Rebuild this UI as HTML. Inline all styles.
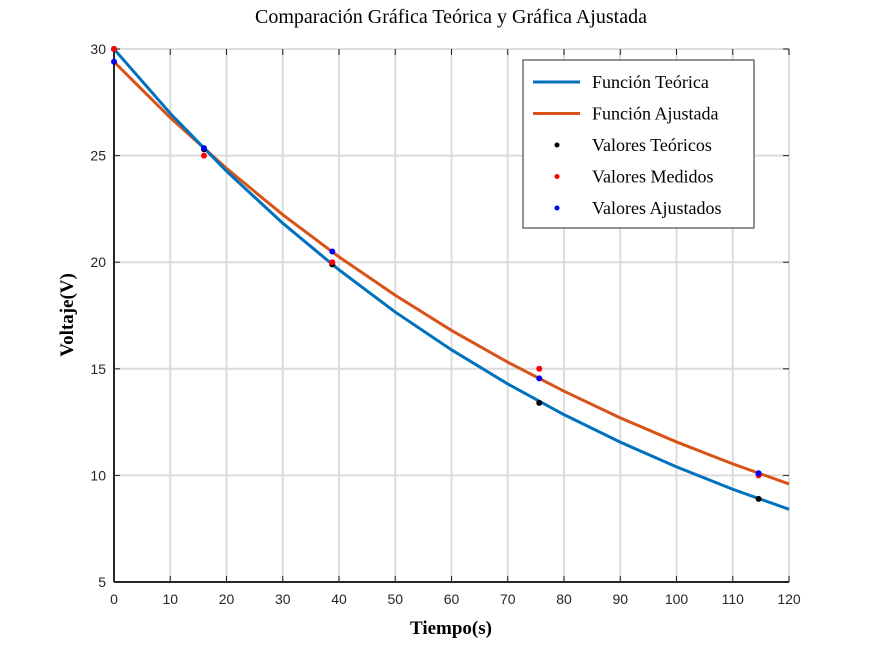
<!DOCTYPE html>
<html><head><meta charset="utf-8"><style>
body{margin:0;background:#fff}
svg{display:block}
</style></head><body>
<svg id="chart" width="872" height="654" xmlns="http://www.w3.org/2000/svg"></svg>
<script>
const curveT = [0,10,20,30,40,50,60,70,80,90,100,110,120];
const theoCurve = [30,26.98,24.27,21.83,19.64,17.66,15.89,14.29,12.85,11.56,10.40,9.35,8.41];
const fitCurve = [29.4,26.78,24.4,22.23,20.25,18.45,16.8,15.31,13.95,12.7,11.57,10.54,9.6];
const sampleT = [0,16,38.8,75.6,114.6];
const theoVals = [30,25.3,19.9,13.4,8.9];
const measVals = [30,25,20,15,10];
const fitVals = [29.4,25.35,20.5,14.55,10.1];
const xTicks = [0,10,20,30,40,50,60,70,80,90,100,110,120];
const yTicks = [5,10,15,20,25,30];

const NS="http://www.w3.org/2000/svg";
const svg=document.getElementById('chart');
const X0=114,X1=789,Y0=582,Y1=49;
const sx=v=>X0+(v-0)/(120-0)*(X1-X0);
const sy=v=>Y0-(v-5)/(30-5)*(Y0-Y1);
function mk(tag,attrs,parent){const e=document.createElementNS(NS,tag);for(const k in attrs)e.setAttribute(k,attrs[k]);(parent||svg).appendChild(e);return e;}

const grid=mk('g',{});


xTicks.forEach(t=>{mk('line',{x1:sx(t),x2:sx(t),y1:Y1,y2:Y0,stroke:'#dcdcdc','stroke-width':2},grid);});
yTicks.forEach(t=>{mk('line',{x1:X0,x2:X1,y1:sy(t),y2:sy(t),stroke:'#dcdcdc','stroke-width':2},grid);});

const axes=mk('g',{});


mk('line',{x1:X0,x2:X0,y1:Y1,y2:Y0,stroke:'#262626','stroke-width':2},axes);
mk('line',{x1:X0,x2:X1,y1:Y0,y2:Y0,stroke:'#262626','stroke-width':2},axes);
xTicks.forEach(t=>{
  mk('line',{x1:sx(t),x2:sx(t),y1:Y0,y2:Y0-6,stroke:'#262626','stroke-width':1},axes);
  mk('line',{x1:sx(t),x2:sx(t),y1:Y1,y2:Y1+6,stroke:'#262626','stroke-width':1},axes);
  const tx=mk('text',{x:sx(t),y:Y0+22,'text-anchor':'middle','font-family':'Liberation Sans, sans-serif','font-size':14,fill:'#262626'},axes);
  tx.textContent=t;
  
  
});
yTicks.forEach(t=>{
  mk('line',{x1:X0,x2:X0+6,y1:sy(t),y2:sy(t),stroke:'#262626','stroke-width':1},axes);
  mk('line',{x1:X1,x2:X1-6,y1:sy(t),y2:sy(t),stroke:'#262626','stroke-width':1},axes);
  const tx=mk('text',{x:X0-8,y:sy(t)+5,'text-anchor':'end','font-family':'Liberation Sans, sans-serif','font-size':14,fill:'#262626'},axes);
  tx.textContent=t;
  
  
});

function line(vals,color,name){
  const d=curveT.map((t,i)=>(i?'L':'M')+sx(t)+','+sy(vals[i])).join(' ');
  const p=mk('path',{d:d,fill:'none',stroke:color,'stroke-width':3});
  
  
}
line(fitCurve,'#d95319','fitted-curve');
line(theoCurve,'#0072bd','theoretical-curve');

function pts(vals,color,name){
  sampleT.forEach((t,i)=>{
    const c=mk('circle',{cx:sx(t),cy:sy(vals[i]),r:3,fill:color});
    
    
  });
}
pts(theoVals,'#000','theoretical-point');
pts(measVals,'#ff0000','measured-point');
pts(fitVals,'#0000ff','fitted-point');

const title=mk('text',{x:451,y:23,'text-anchor':'middle','font-family':'Liberation Serif, serif','font-size':20,fill:'#000'});
title.textContent='Comparación Gráfica Teórica y Gráfica Ajustada';


const xl=mk('text',{x:451,y:634,'text-anchor':'middle','font-family':'Liberation Serif, serif','font-size':19,'font-weight':'bold',fill:'#000'});
xl.textContent='Tiempo(s)';


const yl=mk('text',{x:0,y:0,'text-anchor':'middle','font-family':'Liberation Serif, serif','font-size':19,'font-weight':'bold',fill:'#000',transform:'translate(73,315) rotate(-90)'});
yl.textContent='Voltaje(V)';



const lg=mk('g',{});


mk('rect',{x:523,y:60,width:231,height:168,fill:'#fff',stroke:'#262626','stroke-width':1},lg);
const entries=[['Función Teórica','#0072bd','line'],['Función Ajustada','#d95319','line'],['Valores Teóricos','#000','pt'],['Valores Medidos','#ff0000','pt'],['Valores Ajustados','#0000ff','pt']];
entries.forEach((e,i)=>{
  const y=82+i*31.5;
  const g=mk('g',{},lg);
  
  
  if(e[2]==='line') mk('line',{x1:533,x2:580,y1:y,y2:y,stroke:e[1],'stroke-width':3},g);
  else mk('circle',{cx:557,cy:y,r:2.5,fill:e[1]},g);
  const t=mk('text',{x:592,y:y+6,'font-family':'Liberation Serif, serif','font-size':18,fill:'#000'},g);
  t.textContent=e[0];
});
</script>
</body></html>
